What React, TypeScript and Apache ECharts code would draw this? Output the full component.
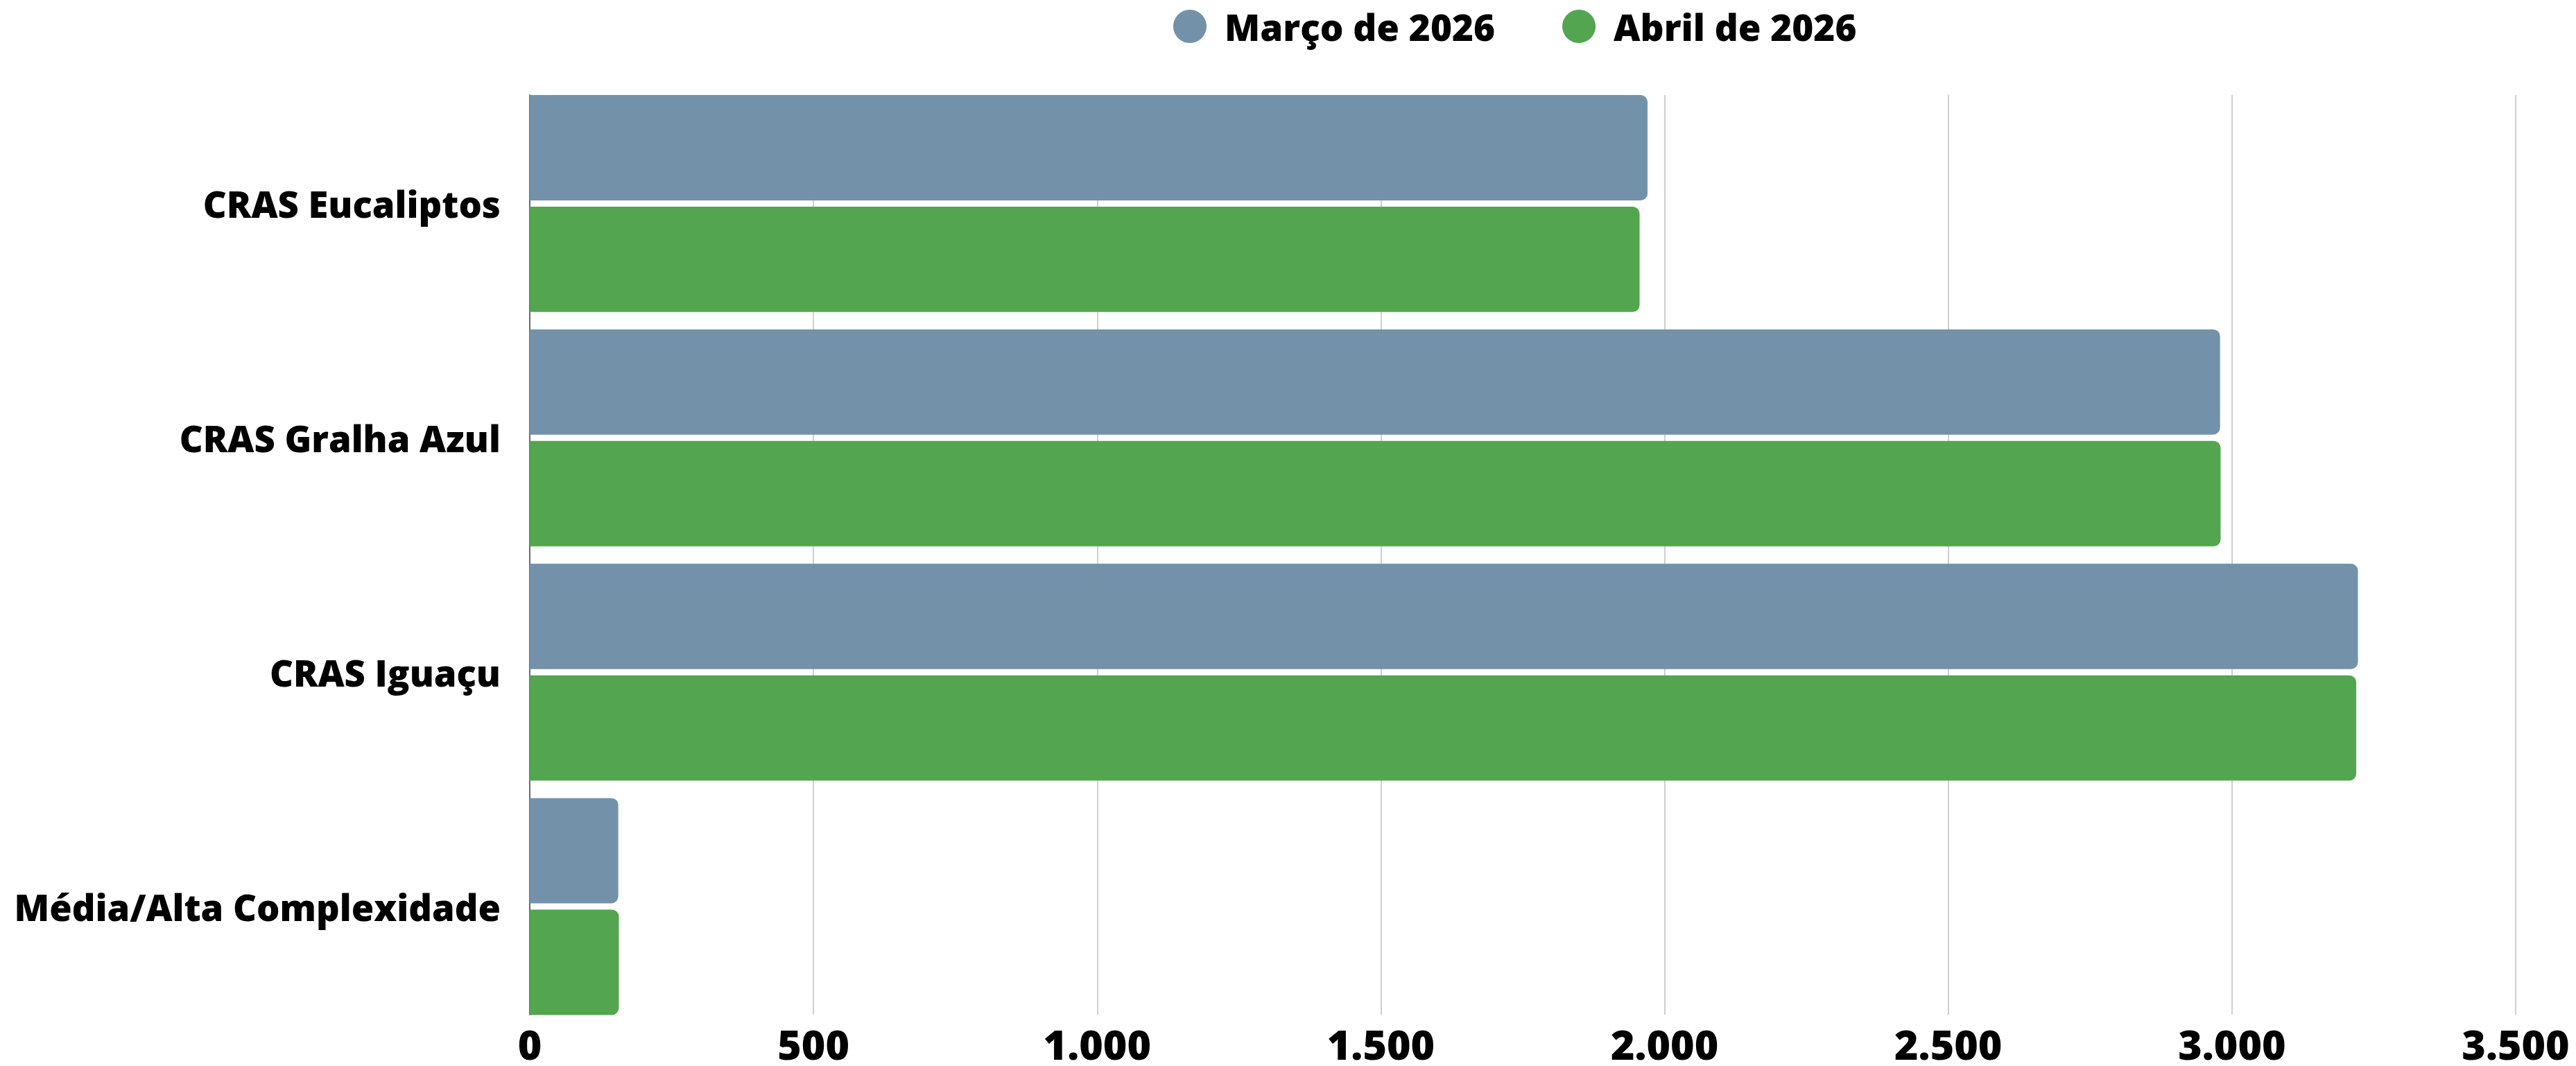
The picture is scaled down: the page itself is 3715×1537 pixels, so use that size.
import React, { useEffect, useRef } from "react";
import * as echarts from "echarts";

const categories = ["CRAS Eucaliptos", "CRAS Gralha Azul", "CRAS Iguaçu", "Média/Alta Complexidade"];
const seriesNames = ["Março de 2026", "Abril de 2026"];
const marco = [1970, 2979, 3222, 156];
const abril = [1956, 2980, 3219, 157];
const xTicks = [0, 500, 1000, 1500, 2000, 2500, 3000, 3500];

const BLUE = "#7392aa";
const GREEN = "#53a550";
const FONT = "'Open Sans', 'Noto Sans', sans-serif";
const WEIGHT = 800;

function fmt(v: number) {
  return v.toLocaleString("pt-BR");
}

export default function App() {
  const ref = useRef<HTMLDivElement>(null);
  useEffect(() => {
    document.body.style.margin = "0";
    const chart = echarts.init(ref.current!, undefined, { renderer: "svg" });
    const xMax = xTicks[xTicks.length - 1];
    const interval = xTicks[1] - xTicks[0];
    chart.setOption({
      animation: false,
      textStyle: { fontFamily: FONT },
      legend: {
        top: 11,
        left: 1692,
        padding: 0,
        icon: "circle",
        itemWidth: 48,
        itemHeight: 48,
        itemGap: 97,
        textStyle: {
          fontSize: 53,
          lineHeight: 54,
          fontWeight: WEIGHT,
          color: "#000",
          fontFamily: FONT,
          padding: [0, 0, 0, 21],
        },
        data: seriesNames,
      },
      grid: [
        { left: 764, right: 87, top: 137, bottom: 74 },
        { left: 764, right: 87, top: 124.5, bottom: 61 },
      ],
      xAxis: [
        {
          type: "value",
          gridIndex: 0,
          min: 0,
          max: xMax,
          interval,
          axisLine: { show: false },
          axisTick: { show: false },
          splitLine: { show: true, lineStyle: { color: "#cfcfcf", width: 2 } },
          axisLabel: {
            fontSize: 59,
            lineHeight: 50,
            fontWeight: WEIGHT,
            color: "#000",
            fontFamily: FONT,
            margin: 17,
            formatter: (v: number) => fmt(v),
          },
        },
        {
          type: "value",
          gridIndex: 1,
          min: 0,
          max: xMax,
          interval,
          show: false,
          splitLine: { show: false },
        },
      ],
      yAxis: [
        {
          type: "category",
          gridIndex: 0,
          data: categories,
          inverse: true,
          axisLine: { show: true, lineStyle: { color: "#6b6b6b", width: 2 } },
          axisTick: { show: false },
          axisLabel: { show: false },
        },
        {
          type: "category",
          gridIndex: 1,
          data: categories,
          inverse: true,
          axisLine: { show: false },
          axisTick: { show: false },
          axisLabel: {
            fontSize: 52.5,
            fontWeight: WEIGHT,
            color: "#000",
            fontFamily: FONT,
            margin: 42,
          },
        },
      ],
      series: [
        {
          name: seriesNames[0],
          type: "bar",
          xAxisIndex: 1,
          yAxisIndex: 1,
          data: marco,
          barGap: "6%",
          barCategoryGap: "7.4%",
          itemStyle: { color: BLUE, borderRadius: [0, 10, 10, 0] },
        },
        {
          name: seriesNames[1],
          type: "bar",
          xAxisIndex: 1,
          yAxisIndex: 1,
          data: abril,
          barGap: "6%",
          barCategoryGap: "7.4%",
          itemStyle: { color: GREEN, borderRadius: [0, 10, 10, 0] },
        },
      ],
    });
    return () => chart.dispose();
  }, []);
  return <div ref={ref} style={{ width: 3715, height: 1537 }} />;
}
